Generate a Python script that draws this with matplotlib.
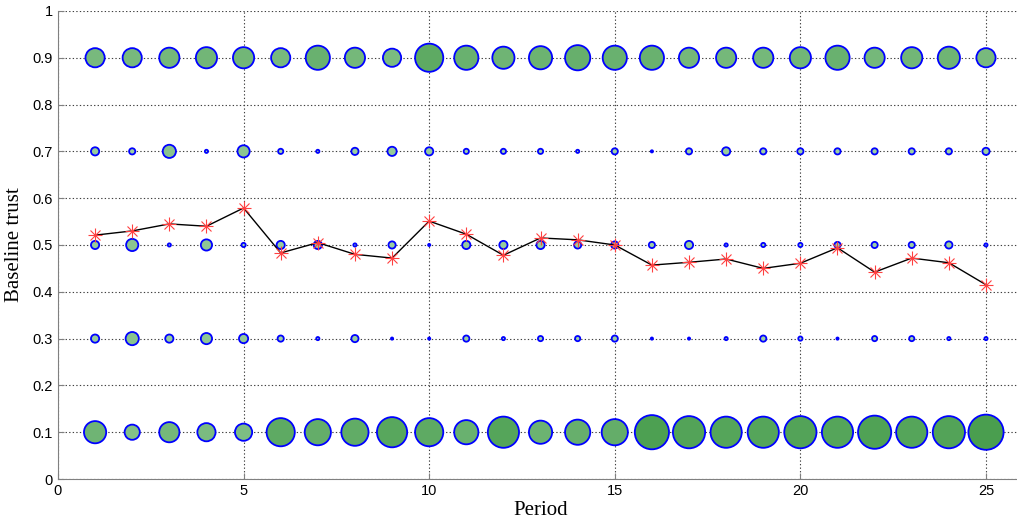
import numpy as np
import matplotlib
matplotlib.use("Agg")
import matplotlib.pyplot as plt

period = np.arange(1, 26)
levels = [0.1, 0.3, 0.5, 0.7, 0.9]

# bubble weight for each baseline-trust level
w_01 = [24, 17, 22, 20, 19, 30, 28, 29, 32, 30, 26, 33, 25, 27, 28, 36, 34, 33, 33, 34, 33, 35, 33, 34, 37]
w_03 = [10, 15, 10, 13, 11, 8, 5, 9, 4, 4, 8, 5, 7, 7, 8, 4, 4, 5, 8, 6, 4, 7, 7, 5, 5]
w_05 = [10, 14, 5, 13, 6, 10, 10, 5, 9, 4, 10, 10, 10, 9, 9, 8, 10, 5, 6, 6, 8, 8, 8, 9, 5]
w_07 = [10, 8, 15, 5, 14, 7, 5, 9, 11, 10, 7, 7, 7, 5, 8, 4, 8, 10, 8, 8, 8, 8, 8, 8, 9]
w_09 = [21, 21, 22, 23, 23, 21, 26, 22, 20, 30, 26, 24, 25, 27, 26, 26, 22, 22, 22, 23, 26, 22, 23, 24, 21]
weights = [w_01, w_03, w_05, w_07, w_09]

# mean baseline trust per period
mean_trust = [0.521, 0.530, 0.545, 0.540, 0.579, 0.483, 0.505, 0.480, 0.472, 0.551,
              0.523, 0.478, 0.515, 0.511, 0.500, 0.457, 0.463, 0.470, 0.450, 0.461,
              0.494, 0.442, 0.472, 0.462, 0.415]

light = np.array([0.66, 0.84, 0.68])
dark = np.array([0.29, 0.62, 0.31])
wmin, wmax = 4, 37

fig = plt.figure(figsize=(10.17, 5.23), dpi=100)
ax = fig.add_axes([0.057, 0.0841, 0.949, 0.895])

for lev, w in zip(levels, weights):
    w = np.array(w, dtype=float)
    s = (0.72 * (w - 1.8)) ** 2
    t = np.clip((w - wmin) / (wmax - wmin), 0, 1)[:, None]
    fc = light + t * (dark - light)
    ax.scatter(period, np.full(len(period), lev), s=s, c=fc,
               edgecolors='#0000ff', linewidths=1.3, zorder=3)

ax.plot(period, mean_trust, color='black', lw=1, zorder=4)
# matlab-style asterisk: plus + cross
ax.plot(period, mean_trust, ls='none', marker='+', color='#ff4040', ms=10,
        markeredgewidth=0.8, zorder=5)
ax.plot(period, mean_trust, ls='none', marker='x', color='#ff4040', ms=7,
        markeredgewidth=0.8, zorder=5)

ax.set_xlim(0, 26)
ax.set_ylim(0, 1)
ax.set_xticks([0, 5, 10, 15, 20, 25])
ax.set_yticks(np.round(np.arange(0, 1.01, 0.1), 1))
ax.set_yticklabels(['0', '0.1', '0.2', '0.3', '0.4', '0.5', '0.6', '0.7', '0.8', '0.9', '1'])
ax.grid(True, ls=(0, (1.2, 2)), color='#404040', lw=0.8)
ax.set_axisbelow(True)
for side in ['top', 'right']:
    ax.spines[side].set_visible(False)
for side in ['left', 'bottom']:
    ax.spines[side].set_color('#808080')
ax.tick_params(direction='in', length=4, color='#808080', labelsize=10.5)
for lab in ax.get_xticklabels() + ax.get_yticklabels():
    lab.set_fontfamily('Liberation Sans')

ax.set_xlabel('Period', fontfamily='Liberation Serif', fontsize=15, labelpad=2)
ax.set_ylabel('Baseline trust', fontfamily='Liberation Serif', fontsize=15, labelpad=6)

fig.savefig('out.png', dpi=100)
